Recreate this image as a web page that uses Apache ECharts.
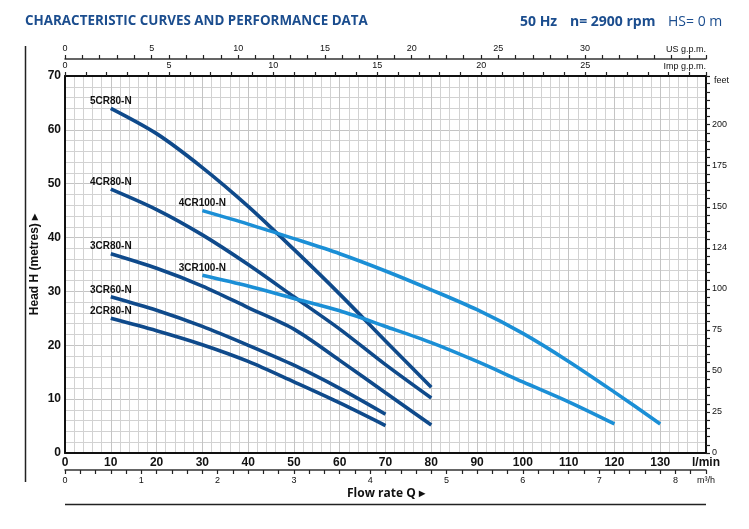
<!DOCTYPE html>
<html>
<head>
    <meta charset="UTF-8">
    <title>Characteristic curves</title>
    <script src="https://cdn.jsdelivr.net/npm/echarts@6/dist/echarts.min.js"></script>
    <style>
        html, body { margin: 0; padding: 0; background: #fff; }
        #pumpChart { width: 749px; height: 529px; }
    </style>
</head>
<body>
<div id="pumpChart"></div>
<script type="text/javascript">
    // flow rate points (l/min) for each curve family
    var q2CR80 = [10, 20, 30, 40, 50, 60, 70];
    var q3CR60 = [10, 20, 30, 40, 50, 60, 70];
    var q3CR80 = [10, 20, 30, 40, 50, 60, 70, 80];
    var q4CR80 = [10, 20, 30, 40, 50, 60, 70, 80];
    var q5CR80 = [10, 20, 30, 40, 50, 60, 70, 80];
    var q3CR100 = [30, 40, 50, 60, 70, 80, 90, 100, 110, 120];
    var q4CR100 = [30, 40, 50, 60, 70, 80, 90, 100, 110, 120, 130];

    // head (metres)
    var h2CR80 = [25, 22.7, 20.1, 17, 13.2, 9.3, 5.1];
    var h3CR60 = [29, 26.5, 23.5, 20, 16.3, 12, 7.2];
    var h3CR80 = [37, 34.3, 31, 27, 23, 17.2, 11.2, 5.2];
    var h4CR80 = [49, 45.2, 40.5, 35, 29, 23, 16.4, 10.2];
    var h5CR80 = [64, 59.3, 53, 45.8, 37.8, 29.5, 20.8, 12.2];
    var h3CR100 = [33, 31, 28.7, 26.4, 23.5, 20.5, 17, 13.2, 9.5, 5.4];
    var h4CR100 = [45, 42.5, 39.8, 37, 33.8, 30.3, 26.6, 22.2, 17, 11.3, 5.4];

    // axis ranges
    var flowMax = 140;          // l/min
    var headMax = 70;           // m
    var usGpmMax = flowMax / 3.78541;
    var impGpmMax = flowMax / 4.54609;
    var m3hMax = flowMax / 16.6667;
    var feetMax = headMax / 0.3048;

    var DARK = '#0f4a8b';
    var LIGHT = '#1b8fd6';
    var NARROW = '"Liberation Sans Narrow", "Liberation Sans", Arial, sans-serif';
    var SANS = '"Open Sans", "Liberation Sans", sans-serif';

    function curve(name, qs, hs, color) {
        var pts = [];
        for (var i = 0; i < qs.length; i++) {
            var p = { value: [qs[i], hs[i]] };
            if (i === 0) {/*model name above the first point*/
                p.label = {
                    show: true, position: 'top', distance: 2,
                    formatter: name, color: '#111',
                    fontFamily: NARROW, fontWeight: 'bold', fontSize: 10
                };
            }
            pts.push(p);
        }
        return {
            name: name, type: 'line', xAxisIndex: 0, yAxisIndex: 0,
            smooth: 0.3,
            showSymbol: true, symbol: 'circle', symbolSize: 0,
            lineStyle: { color: color, width: 3.6 },
            itemStyle: { color: color },
            emphasis: { disabled: true },
            data: pts
        };
    }

    // ticks of the unit scales, pointing away from the plot
    function ticks() {
        return { show: true, inside: false, length: 4, lineStyle: { color: '#222', width: 1.2 } };
    }
    function smallLabel(fmt) {
        return { margin: 6, fontFamily: NARROW, fontSize: 9, color: '#111', formatter: fmt };
    }

    var myChart = echarts.init(document.getElementById('pumpChart'), null, { renderer: 'canvas' });
    myChart.setOption({
        animation: false,
        grid: { left: 65, right: 43, top: 76, bottom: 76, containLabel: false },
        graphic: [
            {
                type: 'text', left: 25, top: 15,
                style: { text: 'CHARACTERISTIC CURVES AND PERFORMANCE DATA', fill: '#1b4d8e',
                    font: 'bold 13.4px ' + SANS }
            },
            {
                type: 'text', left: 520, top: 15,
                style: { text: '50 Hz', fill: '#1b4d8e', font: 'bold 14px ' + SANS }
            },
            {
                type: 'text', left: 570, top: 15,
                style: { text: 'n= 2900 rpm', fill: '#1b4d8e', font: 'bold 14px ' + SANS }
            },
            {
                type: 'text', left: 668, top: 15,
                style: { text: 'HS= 0 m', fill: '#1b4d8e', font: '14px ' + SANS }
            },
            {/*left frame line*/
                type: 'line', shape: { x1: 25.5, y1: 46, x2: 25.5, y2: 482 },
                style: { stroke: '#222', lineWidth: 1.5 }
            },
            {/*bottom frame line*/
                type: 'line', shape: { x1: 65, y1: 504.5, x2: 706, y2: 504.5 },
                style: { stroke: '#222', lineWidth: 1.5 }
            },
            {
                type: 'text', left: 347, top: 488,
                style: { text: 'Flow rate Q \u25B8', fill: '#111', font: 'bold 12px ' + SANS }
            },
            {
                type: 'text', left: 714, top: 76,
                style: { text: 'feet', fill: '#111', font: '9px ' + NARROW }
            }
        ],
        xAxis: [
            {/*main l/min axis*/
                type: 'value', position: 'bottom', min: 0, max: flowMax, interval: 10,
                axisLine: { show: true, onZero: false, lineStyle: { color: '#111', width: 2 } },
                axisTick: { show: false },
                axisLabel: {
                    margin: 4, color: '#111', fontFamily: NARROW, fontWeight: 'bold', fontSize: 12,
                    formatter: function (v) { return v === flowMax ? 'l/min' : String(v); }
                },
                splitLine: { show: true, lineStyle: { color: '#c4c4c4', width: 1 } },
                minorTick: { show: false, splitNumber: 5 },
                minorSplitLine: { show: true, lineStyle: { color: '#d2d2d2', width: 1 } }
            },
            {/*m3/h*/
                type: 'value', position: 'bottom', offset: 17, min: 0, max: m3hMax, interval: 0.2,
                axisLine: { show: true, onZero: false, lineStyle: { color: '#333', width: 1.5 } },
                axisTick: ticks(),
                axisLabel: smallLabel(function (v) {
                    var r = Math.round(v);
                    if (Math.abs(v - r) < 0.01) return String(r);
                    if (v > 8.3) return 'm\u00B3/h';
                    return '';
                }),
                splitLine: { show: false }
            },
            {/*Imp g.p.m.*/
                type: 'value', position: 'top', offset: 0, min: 0, max: impGpmMax, interval: 1,
                axisLine: { show: true, onZero: false, lineStyle: { color: '#111', width: 2 } },
                axisTick: ticks(),
                axisLabel: smallLabel(function (v) { return (v % 5 === 0 && v < 30) ? String(v) : ''; }),
                name: 'Imp g.p.m.', nameLocation: 'end', nameGap: 0,
                nameTextStyle: { fontFamily: NARROW, fontSize: 9, color: '#111', align: 'right',
                    verticalAlign: 'bottom', padding: [0, 0, 5, 0] },
                splitLine: { show: false }
            },
            {/*US g.p.m.*/
                type: 'value', position: 'top', offset: 17, min: 0, max: usGpmMax, interval: 1,
                axisLine: { show: true, onZero: false, lineStyle: { color: '#333', width: 1.5 } },
                axisTick: ticks(),
                axisLabel: smallLabel(function (v) { return (v % 5 === 0 && v < 35) ? String(v) : ''; }),
                name: 'US g.p.m.', nameLocation: 'end', nameGap: 0,
                nameTextStyle: { fontFamily: NARROW, fontSize: 9, color: '#111', align: 'right',
                    verticalAlign: 'bottom', padding: [0, 0, 5, 0] },
                splitLine: { show: false }
            }
        ],
        yAxis: [
            {/*head in metres*/
                type: 'value', position: 'left', min: 0, max: headMax, interval: 10,
                axisLine: { show: true, onZero: false, lineStyle: { color: '#111', width: 2 } },
                axisTick: { show: false },
                axisLabel: { margin: 4, color: '#111', fontFamily: NARROW, fontWeight: 'bold', fontSize: 12 },
                name: 'Head H (metres) \u25B8', nameLocation: 'middle', nameGap: 24,
                nameMoveOverlap: false,
                nameTextStyle: { fontFamily: NARROW, fontWeight: 'bold', fontSize: 12, color: '#111' },
                splitLine: { show: true, lineStyle: { color: '#c4c4c4', width: 1 } },
                minorTick: { show: false, splitNumber: 5 },
                minorSplitLine: { show: true, lineStyle: { color: '#d2d2d2', width: 1 } }
            },
            {/*head in feet*/
                type: 'value', position: 'right', min: 0, max: feetMax, interval: 5,
                axisLine: { show: true, onZero: false, lineStyle: { color: '#111', width: 2 } },
                axisTick: ticks(),
                axisLabel: smallLabel(function (v) {
                    if (v % 25 !== 0 || v > 200) return '';
                    return v === 125 ? '124' : String(v);
                }),
                splitLine: { show: false }
            }
        ],
        series: [
            curve('2CR80-N', q2CR80, h2CR80, DARK),
            curve('3CR60-N', q3CR60, h3CR60, DARK),
            curve('3CR80-N', q3CR80, h3CR80, DARK),
            curve('4CR80-N', q4CR80, h4CR80, DARK),
            curve('5CR80-N', q5CR80, h5CR80, DARK),
            curve('3CR100-N', q3CR100, h3CR100, LIGHT),
            curve('4CR100-N', q4CR100, h4CR100, LIGHT)
        ]
    });
</script>
</body>
</html>
